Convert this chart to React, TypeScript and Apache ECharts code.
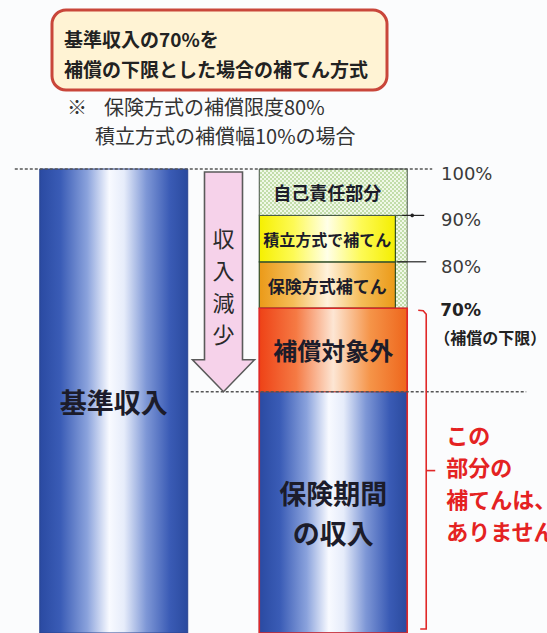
import React, { useEffect, useRef } from 'react';
import * as echarts from 'echarts';

// ---- data ----
const categories = ['基準収入', '補てん方式'];
const segmentCategory = [0, 1, 1, 1, 1, 1];
const segmentFrom = [0, 0, 52, 70, 80, 90];
const segmentTo = [100, 52, 70, 80, 90, 100];
const segmentLabels = ['基準収入', '保険期間\nの収入', '補償対象外', '保険方式補てん', '積立方式で補てん', '自己責任部分'];
const tickLabelValues = [80, 90, 100];
const floorValue = 70;
const incomeValue = 52;
const baseValue = 100;
const titleLines = ['基準収入の70%を', '補償の下限とした場合の補てん方式'];
const noteMark = '※';
const noteLines = ['保険方式の補償限度80%', '積立方式の補償幅10%の場合'];
const arrowChars = ['収', '入', '減', '少'];
const floorLabel = '70%';
const floorNote = '（補償の下限）';
const bracketText = ['この', '部分の', '補てんは、', 'ありません'];

const JP = '"Noto Sans CJK JP", "Noto Sans", sans-serif';
const LAT = '"DejaVu Sans", "Noto Sans CJK JP", sans-serif';

function hGrad(stops: [number, string][]) {
  return new echarts.graphic.LinearGradient(0, 0, 1, 0, stops.map(([offset, color]) => ({ offset, color })));
}

export default function App() {
  const ref = useRef<HTMLDivElement>(null);
  useEffect(() => {
    if (!ref.current) return;
    const chart = echarts.init(ref.current, null, { renderer: 'svg' });

    const cv = document.createElement('canvas');
    cv.width = 4;
    cv.height = 4;
    const ctx = cv.getContext('2d');
    if (ctx) {
      ctx.fillStyle = '#f0f8e8';
      ctx.fillRect(0, 0, 4, 4);
      ctx.fillStyle = '#c2ddaa';
      ctx.fillRect(0, 0, 2, 2);
      ctx.fillRect(2, 2, 2, 2);
    }
    const checker: any = { image: cv, repeat: 'repeat', imageWidth: 4, imageHeight: 4 };

    const blue = () => hGrad([[0, '#2a4aa2'], [0.14, '#3a5cb6'], [0.32, '#8aa2dc'], [0.47, '#f8faff'], [0.57, '#e6ecfa'], [0.72, '#7e97d6'], [0.88, '#3a5bb5'], [1, '#2a4a9e']]);
    const red = () => hGrad([[0, '#ee4216'], [0.25, '#f57a44'], [0.5, '#fde6d4'], [0.75, '#f59448'], [1, '#ee661c']]);
    const yellow = () => hGrad([[0, '#f6f000'], [0.25, '#fdfa55'], [0.5, '#ffffe8'], [0.75, '#fdfa55'], [1, '#f4ee00']]);
    const orange = () => hGrad([[0, '#eb9a18'], [0.25, '#f5bd58'], [0.5, '#fff2dc'], [0.75, '#f5bd58'], [1, '#eb9a18']]);

    const segData = segmentFrom.map((f, i) => [segmentCategory[i], f, segmentTo[i]]);
    const fontSizes = [27, 27, 24, 17, 16, 18];

    const renderSegment = (params: any, api: any) => {
      const i = params.dataIndex;
      const cat = api.value(0);
      const from = api.value(1);
      const to = api.value(2);
      const band = api.size([1, 0])[0];
      const w = band * 0.674;
      const strip = w * 0.08;
      const t = api.coord([cat, to]);
      const b = api.coord([cat, from]);
      const H = api.getHeight();
      const x = t[0] - w / 2;
      const y = t[1];
      const h = b[1] - t[1];
      const children: any[] = [];
      let labelCx = t[0];
      if (i === 0 || i === 1) {
        children.push({ type: 'rect', shape: { x, y, width: w, height: h }, style: { fill: blue(), stroke: '#2a4590', lineWidth: 1 } });
      } else if (i === 2) {
        children.push({ type: 'rect', shape: { x, y, width: w, height: h }, style: { fill: red(), stroke: '#d83a20', lineWidth: 1 } });
      } else if (i === 3 || i === 4) {
        children.push({ type: 'rect', shape: { x: x + w - strip, y, width: strip, height: h }, style: { fill: checker, stroke: '#556644', lineWidth: 0.8 } });
        children.push({ type: 'rect', shape: { x, y, width: w - strip, height: h }, style: { fill: i === 3 ? orange() : yellow(), stroke: '#2f4f2a', lineWidth: 1.2 } });
        labelCx = x + (w - strip) / 2;
      } else {
        children.push({ type: 'rect', shape: { x, y, width: w, height: h }, style: { fill: checker, stroke: '#445544', lineWidth: 1 } });
        labelCx = x + (w - strip) / 2;
      }
      const cy = (y + Math.min(y + h, H)) / 2;
      children.push({
        type: 'text',
        style: {
          text: segmentLabels[i], x: labelCx, y: cy, align: 'center', verticalAlign: 'middle',
          fontSize: fontSizes[i], fontWeight: 'bold', fontFamily: JP, fill: '#1c1c2a',
          lineHeight: i === 1 ? 40 : fontSizes[i] + 4,
        },
      });
      return { type: 'group', children };
    };

    const renderNotes = (params: any, api: any) => {
      const band = api.size([1, 0])[0];
      const w = band * 0.674;
      const H = api.getHeight();
      const c0 = api.coord([0, baseValue]);
      const c1 = api.coord([1, baseValue]);
      const yInc = api.coord([1, incomeValue])[1];
      const yFloor = api.coord([1, floorValue])[1];
      const yBase = c0[1];
      const yZero = api.coord([1, 0])[1];
      const leftR = c0[0] + w / 2;
      const rightL = c1[0] - w / 2;
      const rightR = c1[0] + w / 2;
      const cx = (c0[0] + c1[0]) / 2;
      const children: any[] = [];
      // red outline of the uncompensated block
      children.push({ type: 'rect', shape: { x: rightL, y: yFloor, width: w, height: yZero - yFloor }, style: { fill: 'none', stroke: '#e02828', lineWidth: 1.6 } });
      // dashed reference lines
      children.push({ type: 'line', shape: { x1: c0[0] - w / 2 - 25, y1: yBase, x2: rightR + 25, y2: yBase }, style: { stroke: '#555', lineWidth: 1.5, lineDash: [3, 2] } });
      children.push({ type: 'line', shape: { x1: leftR + 3, y1: yInc, x2: rightR + 119, y2: yInc }, style: { stroke: '#555', lineWidth: 1.5, lineDash: [3, 2] } });
      // tick marks at 90% / 80%
      tickLabelValues.filter((v) => v < baseValue).forEach((v) => {
        const ty = api.coord([1, v])[1];
        const ext = v === 90 ? [-5, 17] : [-10, 19];
        children.push({ type: 'line', shape: { x1: rightR + ext[0], y1: ty, x2: rightR + ext[1], y2: ty }, style: { stroke: '#222', lineWidth: 1.2 } });
        if (v === 90) children.push({ type: 'circle', shape: { cx: rightR + 5, cy: ty, r: 1.8 }, style: { fill: '#222' } });
      });
      // arrow
      const top = yBase + 3;
      const headY = yInc - 32;
      children.push({
        type: 'polygon',
        shape: { points: [[cx - 19, top], [cx + 19, top], [cx + 19, headY], [cx + 31, headY], [cx, yInc], [cx - 31, headY], [cx - 19, headY]] },
        style: { fill: '#f6d2ea', stroke: '#5a5a5a', lineWidth: 1.6 },
      });
      arrowChars.forEach((ch, k) => {
        children.push({ type: 'text', style: { text: ch, x: cx, y: top + 65 + k * 32, align: 'center', verticalAlign: 'middle', fontSize: 22, fontFamily: JP, fill: '#2a2a2a' } });
      });
      // bracket
      const bx = rightR + 19;
      const mid = (yFloor + H) / 2;
      children.push({ type: 'polyline', shape: { points: [[bx - 8, yFloor + 2], [bx - 3, yFloor + 2.5], [bx, yFloor + 6], [bx, H - 4], [bx - 6, H - 4]] }, style: { fill: 'none', stroke: '#e02828', lineWidth: 1.6 } });
      children.push({ type: 'line', shape: { x1: bx, y1: mid, x2: bx + 9, y2: mid }, style: { stroke: '#e02828', lineWidth: 1.6 } });
      bracketText.forEach((line, k) => {
        children.push({ type: 'text', style: { text: line, x: bx + 20, y: mid - 37 + k * 32, align: 'left', verticalAlign: 'middle', fontSize: 22, fontWeight: 'bold', fontFamily: JP, fill: '#e42222' } });
      });
      // floor labels
      children.push({ type: 'text', style: { text: floorLabel, x: rightR + 33, y: yFloor + 2, align: 'left', verticalAlign: 'middle', fontSize: 17, fontWeight: 'bold', fontFamily: LAT, fill: '#222' } });
      children.push({ type: 'text', style: { text: floorNote, x: rightR + 27, y: yFloor + 29, align: 'left', verticalAlign: 'middle', fontSize: 16, fontWeight: 'bold', fontFamily: JP, fill: '#222' } });
      return { type: 'group', children };
    };

    chart.setOption({
      animation: false,
      backgroundColor: '#fbfcfd',
      textStyle: { fontFamily: JP },
      grid: { left: 4, right: 104, top: 169, height: 480, containLabel: false },
      xAxis: { type: 'category', data: categories, show: false },
      yAxis: {
        type: 'value', position: 'right', min: 0, max: 100, interval: 10,
        axisLine: { show: false }, axisTick: { show: false }, splitLine: { show: false },
        axisLabel: {
          margin: -2,
          formatter: (v: number) => (tickLabelValues.indexOf(v) >= 0 ? '{p|' + v + '%}' : ''),
          rich: { p: { fontSize: 18, color: '#3a3a3a', fontFamily: LAT, padding: [9, 0, 0, 0] } },
        },
      },
      graphic: [
        { type: 'rect', shape: { x: 52, y: 10, width: 335, height: 80, r: 14 }, style: { fill: '#fff3d4', stroke: '#c9463a', lineWidth: 3 }, z: 10 },
        { type: 'text', style: { text: titleLines[0], x: 64, y: 38, verticalAlign: 'middle', fontSize: 19, fontWeight: 'bold', fontFamily: JP, fill: '#222' }, z: 11 },
        { type: 'text', style: { text: titleLines[1], x: 64, y: 68, verticalAlign: 'middle', fontSize: 19, fontWeight: 'bold', fontFamily: JP, fill: '#222' }, z: 11 },
        { type: 'text', style: { text: noteMark, x: 67, y: 106.5, verticalAlign: 'middle', fontSize: 20, fontFamily: JP, fill: '#333' }, z: 11 },
        { type: 'text', style: { text: noteLines[0], x: 104, y: 106.5, verticalAlign: 'middle', fontSize: 20, fontFamily: JP, fill: '#333' }, z: 11 },
        { type: 'text', style: { text: noteLines[1], x: 95, y: 135.5, verticalAlign: 'middle', fontSize: 20, fontFamily: JP, fill: '#333' }, z: 11 },
      ],
      series: [
        { type: 'custom', renderItem: renderSegment, data: segData, encode: { x: 0, y: [1, 2] }, silent: true },
        { type: 'custom', renderItem: renderNotes, data: [[0, 0, 100]], encode: { x: 0, y: [1, 2] }, silent: true, z: 3 },
      ],
    });
    return () => chart.dispose();
  }, []);
  return <div ref={ref} style={{ position: 'absolute', left: 0, top: 0, width: 547, height: 633 }} />;
}
